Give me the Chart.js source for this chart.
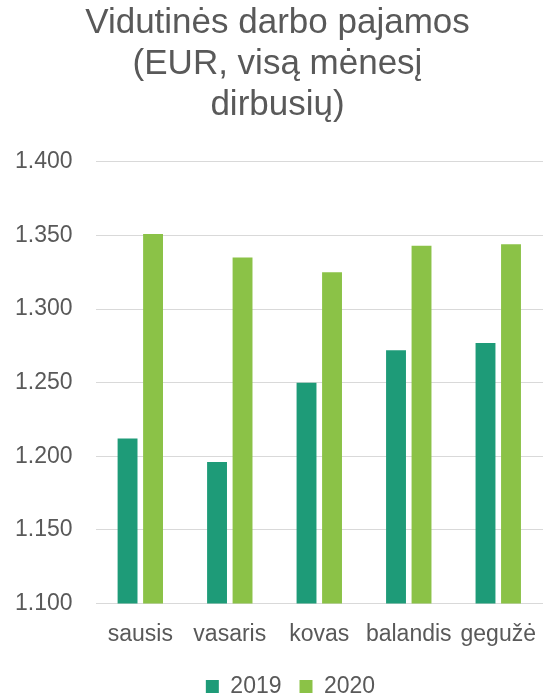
<!DOCTYPE html>
<html>
<head>
<meta charset="utf-8">
<script src="https://cdn.jsdelivr.net/npm/chart.js@4"></script>
<style>
  html, body { margin: 0; padding: 0; background: #fff; }
  #wrap { width: 543px; height: 693px; }
</style>
</head>
<body>
<div id="wrap"><canvas id="incomeChart"></canvas></div>
<script>
// Duomenys
const months = ['sausis', 'vasaris', 'kovas', 'balandis', 'gegužė'];
const income2019 = [1212, 1196, 1250, 1272, 1277];
const income2020 = [1351, 1335, 1325, 1343, 1344];
const yTickLabels = ['1.100', '1.150', '1.200', '1.250', '1.300', '1.350', '1.400'];

const textColor = '#595959';
const fontFamily = '"Liberation Sans", Arial, sans-serif';

// legenda ir pavadinimas Excel'yje nėra centruoti visame plote
const shiftBoxes = {
    id: 'shiftBoxes',
    afterLayout(chart) {
        const lg = chart.legend;
        if (lg) { lg.left += 21; lg.right += 21; }
        const t = chart.titleBlock;
        if (t) { t.left += 8; t.right += 8; }
    }
};

new Chart(document.getElementById('incomeChart'), {
    type: 'bar',
    data: {
        labels: months,
        datasets: [
            { label: '2019', data: income2019, backgroundColor: '#1E9B78' },
            { label: '2020', data: income2020, backgroundColor: '#8BC247' }
        ]
    },
    options: {
        responsive: true,
        maintainAspectRatio: false,
        animation: false,
        categoryPercentage: 0.57,
        barPercentage: 0.78,
        layout: { padding: { left: -8, right: -4, top: 0, bottom: -15 } },
        plugins: {
            title: {
                display: true,
                text: ['Vidutinės darbo pajamos', '(EUR, visą mėnesį', 'dirbusių)'],
                color: textColor,
                font: { family: fontFamily, size: 35, weight: 'normal', lineHeight: 1.17 },
                padding: { top: 3, bottom: 36 }
            },
            legend: {
                position: 'bottom',
                labels: {
                    color: textColor,
                    font: { family: fontFamily, size: 23 },
                    boxWidth: 13,
                    boxHeight: 13,
                    padding: 18
                }
            },
            tooltip: { enabled: false }
        },
        scales: {
            x: {
                grid: { display: false },
                border: { display: false },
                ticks: {
                    color: textColor,
                    font: { family: fontFamily, size: 23 },
                    padding: 9,
                    maxRotation: 0,
                    autoSkip: false
                },
                afterFit(scale) {
                    // leisti plotui išeiti už dešinio krašto kaip originale
                    scale.paddingLeft = 0;
                    scale.paddingRight = -10;
                }
            },
            y: {
                min: 1100,
                max: 1400,
                border: { display: false },
                grid: { color: '#D9D9D9', lineWidth: 1, drawTicks: false },
                ticks: {
                    stepSize: 50,
                    color: textColor,
                    font: { family: fontFamily, size: 23 },
                    padding: 23,
                    callback: (v, i) => yTickLabels[i]
                },
                afterFit(scale) {
                    scale.paddingRight = -10;
                }
            }
        }
    },
    plugins: [shiftBoxes]
});
</script>
</body>
</html>
